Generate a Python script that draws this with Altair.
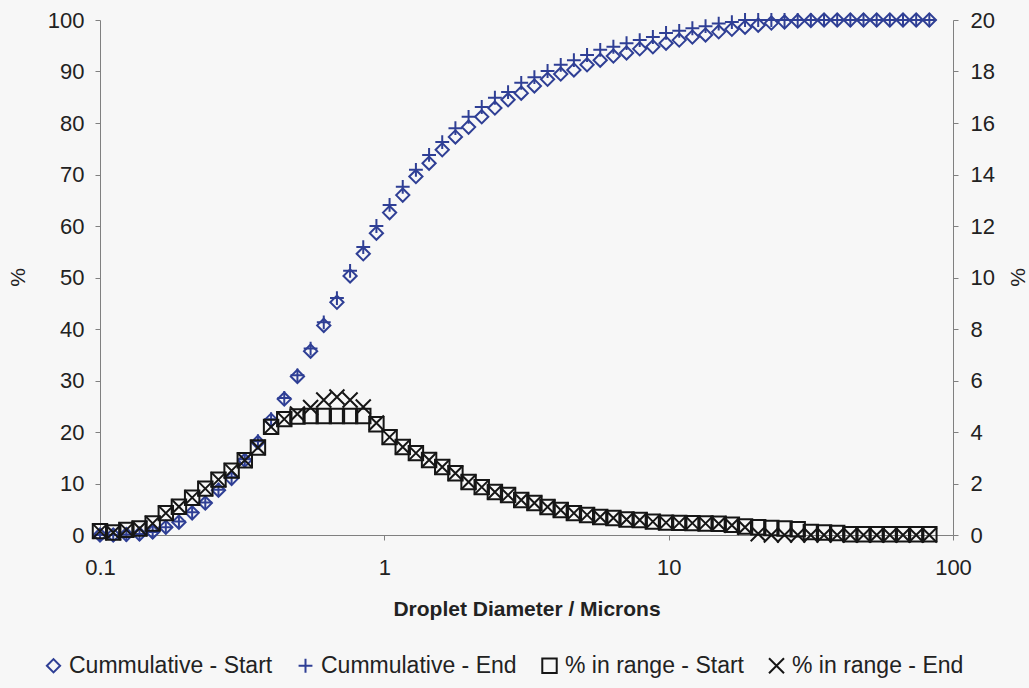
import altair as alt
import pandas as pd

# Droplet size classes (microns)
sizes_um = [0.1, 0.1113, 0.1238, 0.1377, 0.1532, 0.1704, 0.1895, 0.2109, 0.2346, 0.261,
            0.2903, 0.323, 0.3593, 0.3997, 0.4447, 0.4947, 0.5504, 0.6123, 0.6812, 0.7578,
            0.8431, 0.9379, 1.0434, 1.1608, 1.2914, 1.4367, 1.5983, 1.7781, 1.9782, 2.2007,
            2.4483, 2.7238, 3.0302, 3.3711, 3.7504, 4.1723, 4.6417, 5.1639, 5.7448, 6.3911,
            7.1101, 7.91, 8.8, 9.79, 10.891, 12.117, 13.48, 14.996, 16.683, 18.56,
            20.648, 22.971, 25.556, 28.431, 31.629, 35.187, 39.146, 43.55, 48.45, 53.9,
            59.964, 66.71, 74.215, 82.564]

# Cumulative volume % (left axis)
cum_start = [0, 0, 0.1, 0.2, 0.6, 1.5, 2.5, 4.3, 6.2, 8.7,
             11.0, 14.5, 18.0, 22.3, 26.4, 30.8, 35.7, 40.7, 45.2, 50.3,
             54.6, 58.6, 62.6, 66.0, 69.6, 72.2, 74.8, 77.3, 79.2, 81.2,
             82.9, 84.5, 85.8, 87.2, 88.5, 89.5, 90.3, 91.3, 92.2, 93.0,
             93.6, 94.4, 94.8, 95.5, 96.1, 96.7, 97.1, 97.7, 98.2, 98.6,
             99.0, 99.4, 99.6, 99.8, 99.9, 100, 100, 100, 100, 100,
             100, 100, 100, 100]
cum_end = [0, 0, 0.1, 0.2, 0.6, 1.5, 2.6, 4.4, 6.3, 8.8,
           11.2, 14.7, 18.2, 22.5, 26.6, 31.0, 36.2, 41.3, 46.0, 51.3,
           55.9, 60.0, 64.1, 67.6, 70.9, 73.8, 76.3, 79.0, 81.2, 83.1,
           84.9, 86.0, 87.8, 88.9, 90.1, 91.3, 92.2, 93.2, 94.2, 94.8,
           95.5, 96.1, 96.7, 97.5, 97.9, 98.4, 98.8, 99.3, 99.6, 100,
           100, 100, 100, 100, 100, 100, 100, 100, 100, 100,
           100, 100, 100, 100]

# Volume % in each size class (right axis)
range_start = [0.15, 0.1, 0.2, 0.25, 0.45, 0.85, 1.1, 1.45, 1.8, 2.15,
               2.5, 2.9, 3.4, 4.2, 4.5, 4.6, 4.62, 4.62, 4.62, 4.62,
               4.62, 4.3, 3.8, 3.42, 3.18, 2.91, 2.64, 2.4, 2.06, 1.86,
               1.67, 1.55, 1.36, 1.24, 1.09, 0.97, 0.85, 0.78, 0.7, 0.66,
               0.6, 0.58, 0.52, 0.48, 0.47, 0.46, 0.45, 0.44, 0.4, 0.33,
               0.3, 0.27, 0.25, 0.22, 0.12, 0.1, 0.08, 0.03, 0.03, 0.03,
               0.03, 0.03, 0.03, 0.03]
range_end = [0.15, 0.1, 0.2, 0.25, 0.45, 0.85, 1.1, 1.45, 1.8, 2.15,
             2.5, 2.9, 3.4, 4.2, 4.5, 4.7, 4.95, 5.24, 5.36, 5.24,
             4.97, 4.35, 3.8, 3.42, 3.18, 2.91, 2.64, 2.4, 2.06, 1.86,
             1.67, 1.55, 1.36, 1.24, 1.09, 0.97, 0.85, 0.78, 0.7, 0.66,
             0.6, 0.58, 0.52, 0.48, 0.47, 0.46, 0.45, 0.44, 0.38, 0.3,
             0.05, 0, 0, 0, 0, 0, 0, 0, 0, 0,
             0, 0, 0, 0]

series_names = ["Cummulative - Start", "Cummulative - End",
                "% in range - Start", "% in range - End"]

FONT = "Liberation Sans"
BLUE = "#2f3f95"
BLACK = "#161616"
PLUS = "M-1,0L1,0M0,-1L0,1"
CROSS = "M-1,-1L1,1M-1,1L1,-1"

n = len(sizes_um)
cum_df = pd.DataFrame({
    "size": sizes_um + sizes_um,
    "value": cum_start + cum_end,
    "series": [series_names[0]] * n + [series_names[1]] * n,
})
rng_df = pd.DataFrame({
    "size": sizes_um + sizes_um,
    "value": range_start + range_end,
    "series": [series_names[2]] * n + [series_names[3]] * n,
})

legend = alt.Legend(
    title=None, orient="none", direction="horizontal",
    legendX=-58, legendY=634,
    labelFont=FONT, labelFontSize=23, labelColor="#222222", labelLimit=400,
    symbolSize=110, symbolStrokeWidth=2, labelOffset=4, columnPadding=21,
)
color = alt.Color("series:N", scale=alt.Scale(domain=series_names,
                  range=[BLUE, BLUE, BLACK, BLACK]), legend=legend)
shape = alt.Shape("series:N", scale=alt.Scale(domain=series_names,
                  range=["diamond", PLUS, "square", CROSS]), legend=legend)
size = alt.Size("series:N", scale=alt.Scale(domain=series_names,
                range=[175, 225, 170, 200]), legend=None)

x_enc = alt.X(
    "size:Q",
    scale=alt.Scale(type="log", domain=[0.1, 100]),
    axis=alt.Axis(values=[0.1, 1, 10, 100], format="~g", labelFlush=False,
                  title="Droplet Diameter / Microns",
                  labelPadding=17, titlePadding=20,
                  titleFontWeight="bold", titleFontSize=21),
)

cum_layer = alt.Chart(cum_df).mark_point(filled=False, strokeWidth=2, opacity=1).encode(
    x=x_enc,
    y=alt.Y("value:Q", scale=alt.Scale(domain=[0, 100]),
            axis=alt.Axis(orient="left", values=list(range(0, 101, 10)), title="%",
                          labelPadding=11, titleX=-82, titleY=257, titleAngle=270,
                          titleAlign="center", titleBaseline="middle")),
    color=color, shape=shape, size=size,
)

rng_layer = alt.Chart(rng_df).mark_point(filled=False, strokeWidth=2, opacity=1).encode(
    x=x_enc,
    y=alt.Y("value:Q", scale=alt.Scale(domain=[0, 20]),
            axis=alt.Axis(orient="right", values=list(range(0, 21, 2)), title="%",
                          labelPadding=12, titleX=65, titleY=257, titleAngle=270,
                          titleAlign="center", titleBaseline="middle")),
    color=color, shape=shape, size=size,
)

chart = (
    alt.layer(cum_layer, rng_layer)
    .resolve_scale(y="independent")
    .properties(
        width=853, height=515,
        autosize=alt.AutoSizeParams(type="none"),
        padding={"left": 100, "top": 20, "right": 76, "bottom": 153},
        background="#f7f7f7",
    )
    .configure_view(stroke=None)
    .configure_axis(
        grid=False,
        domainColor="#808080", domainWidth=1,
        tickColor="#808080", tickWidth=1, tickSize=5,
        labelFont=FONT, labelFontSize=22, labelColor="#222222",
        titleFont=FONT, titleFontSize=21, titleColor="#222222",
        titleFontWeight="normal",
    )
)

chart.save("out.html", embed_options={"renderer": "svg", "actions": False})
